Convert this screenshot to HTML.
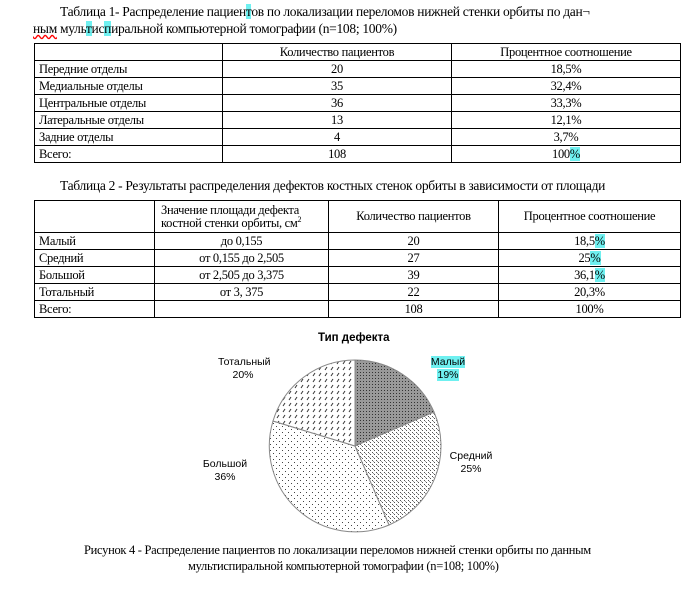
<!DOCTYPE html>
<html><head><meta charset="utf-8"><style>
body{margin:0;width:693px;height:591px;background:#fff;position:relative;overflow:hidden;font-family:"Liberation Serif",serif;font-size:12.5px;color:#000;letter-spacing:-0.3px}
.t{position:absolute;white-space:nowrap}
table{position:absolute;border-collapse:collapse;table-layout:fixed}
td{border:1px solid #000;padding:0 4px;height:16px;line-height:15px;white-space:nowrap}
.c{text-align:center}
.hl{background:#6ff0f0}
.s{font-family:"Liberation Sans",sans-serif;font-size:10.5px;letter-spacing:0;text-align:center;line-height:13px}
</style></head><body>
<div class="t" style="left:60px;top:4px;font-size:13.5px">Таблица 1- Распределение пациен<span class="hl">т</span>ов по локализации переломов нижней стенки орбиты по дан¬</div>
<div class="t" style="left:33px;top:21px;font-size:13.5px"><span style="text-decoration:underline wavy red">ным</span> муль<span class="hl">т</span>ис<span class="hl">п</span>иральной компьютерной томографии (n=108; 100%)</div>
<table style="left:34px;top:43px;width:646px">
<col style="width:188px"><col style="width:229px"><col style="width:229px">
<tr><td></td><td class="c">Количество пациентов</td><td class="c">Процентное соотношение</td></tr>
<tr><td>Передние отделы</td><td class="c">20</td><td class="c">18,5%</td></tr>
<tr><td>Медиальные отделы</td><td class="c">35</td><td class="c">32,4%</td></tr>
<tr><td>Центральные отделы</td><td class="c">36</td><td class="c">33,3%</td></tr>
<tr><td>Латеральные отделы</td><td class="c">13</td><td class="c">12,1%</td></tr>
<tr><td>Задние отделы</td><td class="c">4</td><td class="c">3,7%</td></tr>
<tr><td>Всего:</td><td class="c">108</td><td class="c">100<span class="hl">%</span></td></tr>
</table>
<div class="t" style="left:60px;top:178px;font-size:13.5px">Таблица 2 - Результаты распределения дефектов костных стенок орбиты в зависимости от площади</div>
<table style="left:34px;top:200px;width:646px">
<col style="width:120px"><col style="width:174px"><col style="width:170px"><col style="width:182px">
<tr><td style="height:31px"></td><td style="line-height:13px;text-align:justify;padding:0 6px">Значение площади дефекта<br>костной стенки орбиты, см<sup style="font-size:8px;line-height:0">2</sup></td><td class="c">Количество пациентов</td><td class="c">Процентное соотношение</td></tr>
<tr><td>Малый</td><td class="c">до 0,155</td><td class="c">20</td><td class="c">18,5<span class="hl">%</span></td></tr>
<tr><td>Средний</td><td class="c">от 0,155 до 2,505</td><td class="c">27</td><td class="c">25<span class="hl">%</span></td></tr>
<tr><td>Большой</td><td class="c">от 2,505 до 3,375</td><td class="c">39</td><td class="c">36,1<span class="hl">%</span></td></tr>
<tr><td>Тотальный</td><td class="c">от 3, 375</td><td class="c">22</td><td class="c">20,3%</td></tr>
<tr><td>Всего:</td><td></td><td class="c">108</td><td class="c">100%</td></tr>
</table>
<svg style="position:absolute;left:0;top:0" width="693" height="591">
<defs>
<pattern id="p1" width="3" height="3" patternUnits="userSpaceOnUse"><rect width="3" height="3" fill="#999"/><rect width="1" height="1" fill="#333"/></pattern>
<pattern id="p2" width="4" height="4" patternUnits="userSpaceOnUse"><rect width="4" height="4" fill="#fff"/><rect width="1" height="1" fill="#555"/><rect x="2" y="2" width="1" height="1" fill="#555"/><rect x="1" y="1" width="1" height="1" fill="#999"/></pattern>
<pattern id="p3" width="6" height="6" patternUnits="userSpaceOnUse"><rect width="6" height="6" fill="#fff"/><rect width="1" height="1" fill="#444"/><rect x="3" y="3" width="1" height="1" fill="#444"/></pattern>
<pattern id="p4" width="6" height="6" patternUnits="userSpaceOnUse"><rect width="6" height="6" fill="#fff"/><path d="M1 4 L3 1" stroke="#333" stroke-width="1"/></pattern>
</defs>
<g stroke="#888" stroke-width="1">
<path d="M355 446 L355 360 A86 86 0 0 1 434 412 Z" fill="url(#p1)"/>
<path d="M355 446 L434 412 A86 86 0 0 1 389 525 Z" fill="url(#p2)"/>
<path d="M355 446 L389 525 A86 86 0 0 1 273 421 Z" fill="url(#p3)"/>
<path d="M355 446 L273 421 A86 86 0 0 1 355 360 Z" fill="url(#p4)"/>
</g>
</svg>
<div class="t" style="left:318px;top:332px;font-family:'Liberation Sans',sans-serif;font-size:11.5px;font-weight:bold;letter-spacing:0">Тип дефекта</div>
<div class="t s" style="left:218px;top:356px;width:50px">Тотальный<br>20%</div>
<div class="t s" style="left:428px;top:356px;width:40px"><span class="hl">Малый</span><br><span class="hl">19%</span></div>
<div class="t s" style="left:446px;top:450px;width:50px">Средний<br>25%</div>
<div class="t s" style="left:200px;top:458px;width:50px">Большой<br>36%</div>
<div class="t" style="left:84px;top:543px;font-size:12.5px">Рисунок 4 - Распределение пациентов по локализации переломов нижней стенки орбиты по данным</div>
<div class="t" style="left:188px;top:559px;font-size:12.5px">мультиспиральной компьютерной томографии (n=108; 100%)</div>
</body></html>
